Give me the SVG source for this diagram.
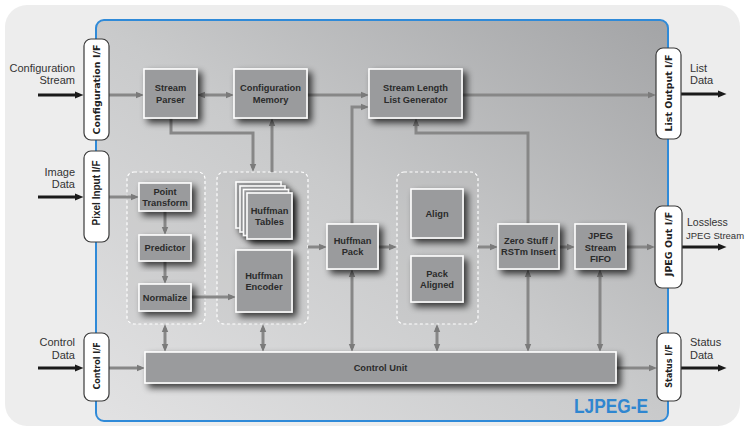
<svg xmlns="http://www.w3.org/2000/svg" width="745" height="432" viewBox="0 0 745 432">
<defs>
<linearGradient id="coreg" x1="0" y1="1" x2="1" y2="0">
<stop offset="0" stop-color="#e2e2e3"/>
<stop offset="0.5" stop-color="#c9cacb"/>
<stop offset="1" stop-color="#a3a4a6"/>
</linearGradient>
<filter id="sh" x="-40%" y="-40%" width="180%" height="180%">
<feGaussianBlur in="SourceAlpha" stdDeviation="3.5"/>
<feOffset dx="4" dy="4" result="b"/>
<feComponentTransfer><feFuncA type="linear" slope="0.75"/></feComponentTransfer>
<feMerge><feMergeNode/><feMergeNode in="SourceGraphic"/></feMerge>
</filter>
<marker id="ag" viewBox="0 0 10 10" refX="5" refY="5" markerWidth="8" markerHeight="8" orient="auto-start-reverse" markerUnits="userSpaceOnUse">
<path d="M0,1 L10,5 L0,9 z" fill="#7b7b7b"/>
</marker>
<marker id="ab" viewBox="0 0 10 10" refX="5" refY="5" markerWidth="9" markerHeight="9" orient="auto" markerUnits="userSpaceOnUse">
<path d="M0,1 L10,5 L0,9 z" fill="#1a1a1a"/>
</marker>
<style>
.box{fill:#9a9b9d;stroke:#ffffff;stroke-width:1.6;filter:url(#sh)}
.grp{fill:#b8b8b8;fill-opacity:0.25;stroke:#ffffff;stroke-width:1.2;stroke-dasharray:3 2.5}
.ifb{fill:#ffffff;stroke:#3a3a3a;stroke-width:1.2}
.bt{font-family:"Liberation Sans",Arial,sans-serif;font-weight:bold;font-size:9.3px;fill:#2b2b2b;text-anchor:middle}
.ift{font-family:"DejaVu Sans",Verdana,sans-serif;font-weight:bold;font-size:9.5px;fill:#222;text-anchor:middle}
.ext{font-family:"Liberation Sans",Arial,sans-serif;font-size:11px;fill:#333}
.c{fill:none;stroke:#878787;stroke-width:3}
.cd{fill:none;stroke:#878787;stroke-width:3;marker-end:url(#ag)}
.cb{fill:none;stroke:#878787;stroke-width:3;marker-start:url(#ag);marker-end:url(#ag)}
.ea{fill:none;stroke:#1a1a1a;stroke-width:3;marker-end:url(#ab)}
</style>
</defs>

<rect x="5" y="5" width="735" height="421" rx="22" fill="#ededed"/>
<rect id="core" x="96" y="20" width="572" height="401" rx="8" fill="url(#coreg)" stroke="#2f8ad8" stroke-width="2"/>

<g id="groups">
<rect id="grp1" class="grp" x="127" y="172" width="78" height="152" rx="7"/>
<rect id="grp2" class="grp" x="217" y="172" width="91" height="152" rx="7"/>
<rect id="grp3" class="grp" x="397" y="172" width="81" height="152" rx="7"/>
</g>

<g id="connectors">
<line class="cd" x1="109" y1="95" x2="140" y2="95"/>
<line class="cb" x1="201" y1="95" x2="230" y2="95"/>
<line class="cd" x1="307" y1="95" x2="365" y2="95"/>
<line class="cd" x1="462" y1="95" x2="652" y2="95"/>
<polyline class="cd" points="171,118 171,133 253,133 253,168"/>
<line class="cd" x1="272" y1="172" x2="272" y2="122"/>
<polyline class="cd" points="352,224 352,107 365,107"/>
<polyline class="cd" points="528,224 528,133 416,133 416,122"/>
<line class="cd" x1="109" y1="197" x2="135" y2="197"/>
<line class="cd" x1="165" y1="211" x2="165" y2="231"/>
<line class="cd" x1="165" y1="261" x2="165" y2="280"/>
<line class="cd" x1="191" y1="297" x2="232" y2="297"/>
<line class="cd" x1="308" y1="247" x2="323" y2="247"/>
<line class="cd" x1="378" y1="247" x2="393" y2="247"/>
<line class="cd" x1="478" y1="247" x2="494" y2="247"/>
<line class="cd" x1="559" y1="247" x2="571" y2="247"/>
<line class="cd" x1="626" y1="247" x2="651" y2="247"/>
<line class="cd" x1="109" y1="368" x2="141" y2="368"/>
<line class="cd" x1="616" y1="368" x2="653" y2="368"/>
<line class="cb" x1="165" y1="328" x2="165" y2="348"/>
<line class="cb" x1="263" y1="328" x2="263" y2="348"/>
<line class="cb" x1="352" y1="273" x2="352" y2="348"/>
<line class="cb" x1="437" y1="328" x2="437" y2="348"/>
<line class="cb" x1="528" y1="273" x2="528" y2="348"/>
<line class="cb" x1="600" y1="273" x2="600" y2="348"/>
<line class="ea" x1="38" y1="95" x2="79" y2="95"/>
<line class="ea" x1="38" y1="197" x2="79" y2="197"/>
<line class="ea" x1="38" y1="368" x2="79" y2="368"/>
<line class="ea" x1="681" y1="94" x2="722" y2="94"/>
<line class="ea" x1="682" y1="247" x2="722" y2="247"/>
<line class="ea" x1="681" y1="368" x2="722" y2="368"/>
</g>

<g id="stream-parser"><rect class="box" x="144" y="69" width="53" height="49"/><text class="bt" x="170.5" y="91">Stream</text><text class="bt" x="170.5" y="103">Parser</text></g>
<g id="configuration-memory"><rect class="box" x="234" y="69" width="73" height="49"/><text class="bt" x="270.5" y="91">Configuration</text><text class="bt" x="270.5" y="103">Memory</text></g>
<g id="stream-length-list-generator"><rect class="box" x="369" y="69" width="93" height="49"/><text class="bt" x="415.5" y="91">Stream Length</text><text class="bt" x="415.5" y="103">List Generator</text></g>
<g id="point-transform"><rect class="box" x="139" y="183" width="52" height="28"/><text class="bt" x="165" y="195">Point</text><text class="bt" x="165" y="206">Transform</text></g>
<g id="predictor"><rect class="box" x="139" y="235" width="52" height="26"/><text class="bt" x="165" y="251">Predictor</text></g>
<g id="normalize"><rect class="box" x="139" y="284" width="52" height="27"/><text class="bt" x="165" y="301">Normalize</text></g>
<g id="huffman-tables">
<rect class="box" x="236" y="182" width="45" height="46"/>
<rect class="box" x="240" y="186" width="45" height="46"/>
<rect class="box" x="243.5" y="189.5" width="45" height="46"/>
<rect class="box" x="247" y="193" width="45" height="46"/>
<text class="bt" x="269.5" y="214">Huffman</text><text class="bt" x="269.5" y="225">Tables</text></g>
<g id="huffman-encoder"><rect class="box" x="236" y="250" width="56" height="62"/><text class="bt" x="264" y="279">Huffman</text><text class="bt" x="264" y="290">Encoder</text></g>
<g id="huffman-pack"><rect class="box" x="327" y="224" width="51" height="45"/><text class="bt" x="352.5" y="244">Huffman</text><text class="bt" x="352.5" y="255">Pack</text></g>
<g id="align"><rect class="box" x="411" y="189" width="52" height="49"/><text class="bt" x="437" y="217">Align</text></g>
<g id="pack-aligned"><rect class="box" x="411" y="256" width="52" height="46"/><text class="bt" x="437" y="277">Pack</text><text class="bt" x="437" y="288">Aligned</text></g>
<g id="zero-stuff"><rect class="box" x="498" y="224" width="61" height="45"/><text class="bt" x="528.5" y="244">Zero Stuff /</text><text class="bt" x="528.5" y="255">RSTm Insert</text></g>
<g id="jpeg-fifo"><rect class="box" x="575" y="224" width="51" height="45"/><text class="bt" x="600.5" y="239">JPEG</text><text class="bt" x="600.5" y="251">Stream</text><text class="bt" x="600.5" y="262">FIFO</text></g>
<g id="control-unit"><rect class="box" x="145" y="352" width="471" height="31"/><text class="bt" x="380.5" y="371">Control Unit</text></g>

<g id="config-if"><rect class="ifb" x="84" y="39" width="25" height="101" rx="7"/><text class="ift" transform="translate(100,89.5) rotate(-90)">Configuration I/F</text></g>
<g id="pixel-if"><rect class="ifb" x="84" y="151" width="25" height="91" rx="7"/><text class="ift" style="font-family:'Liberation Sans',Arial,sans-serif;font-size:10px" transform="translate(100,193) rotate(-90)">Pixel Input I/F</text></g>
<g id="control-if"><rect class="ifb" x="84" y="333" width="25" height="68" rx="7"/><text class="ift" style="font-size:8px" transform="translate(99.5,366) rotate(-90)">Control I/F</text></g>
<g id="list-output-if"><rect class="ifb" x="656" y="48" width="25" height="91" rx="7"/><text class="ift" transform="translate(672,93) rotate(-90)">List Output I/F</text></g>
<g id="jpeg-out-if"><rect class="ifb" x="655" y="206" width="27" height="82" rx="7"/><text class="ift" transform="translate(672,244) rotate(-90)">JPEG Out I/F</text></g>
<g id="status-if"><rect class="ifb" x="657" y="333" width="24" height="68" rx="7"/><text class="ift" style="font-size:8px" transform="translate(672,366) rotate(-90)">Status I/F</text></g>

<g id="labels">
<text class="ext" x="75" y="72" text-anchor="end">Configuration</text>
<text class="ext" x="75" y="84" text-anchor="end">Stream</text>
<text class="ext" x="75" y="176" text-anchor="end">Image</text>
<text class="ext" x="75" y="188" text-anchor="end">Data</text>
<text class="ext" x="75" y="346" text-anchor="end">Control</text>
<text class="ext" x="75" y="359" text-anchor="end">Data</text>
<text class="ext" x="690" y="72">List</text>
<text class="ext" x="690" y="84">Data</text>
<text class="ext" x="687" y="226" style="font-size:10.5px">Lossless</text>
<text class="ext" x="686" y="239" style="font-size:9.5px">JPEG Stream</text>
<text class="ext" x="690" y="346">Status</text>
<text class="ext" x="690" y="359">Data</text>
<text x="574" y="413" textLength="74" lengthAdjust="spacingAndGlyphs" style="font-family:'Liberation Sans',Arial,sans-serif;font-weight:bold;font-size:20px;fill:#2f86d0">LJPEG-E</text>
</g>
</svg>
